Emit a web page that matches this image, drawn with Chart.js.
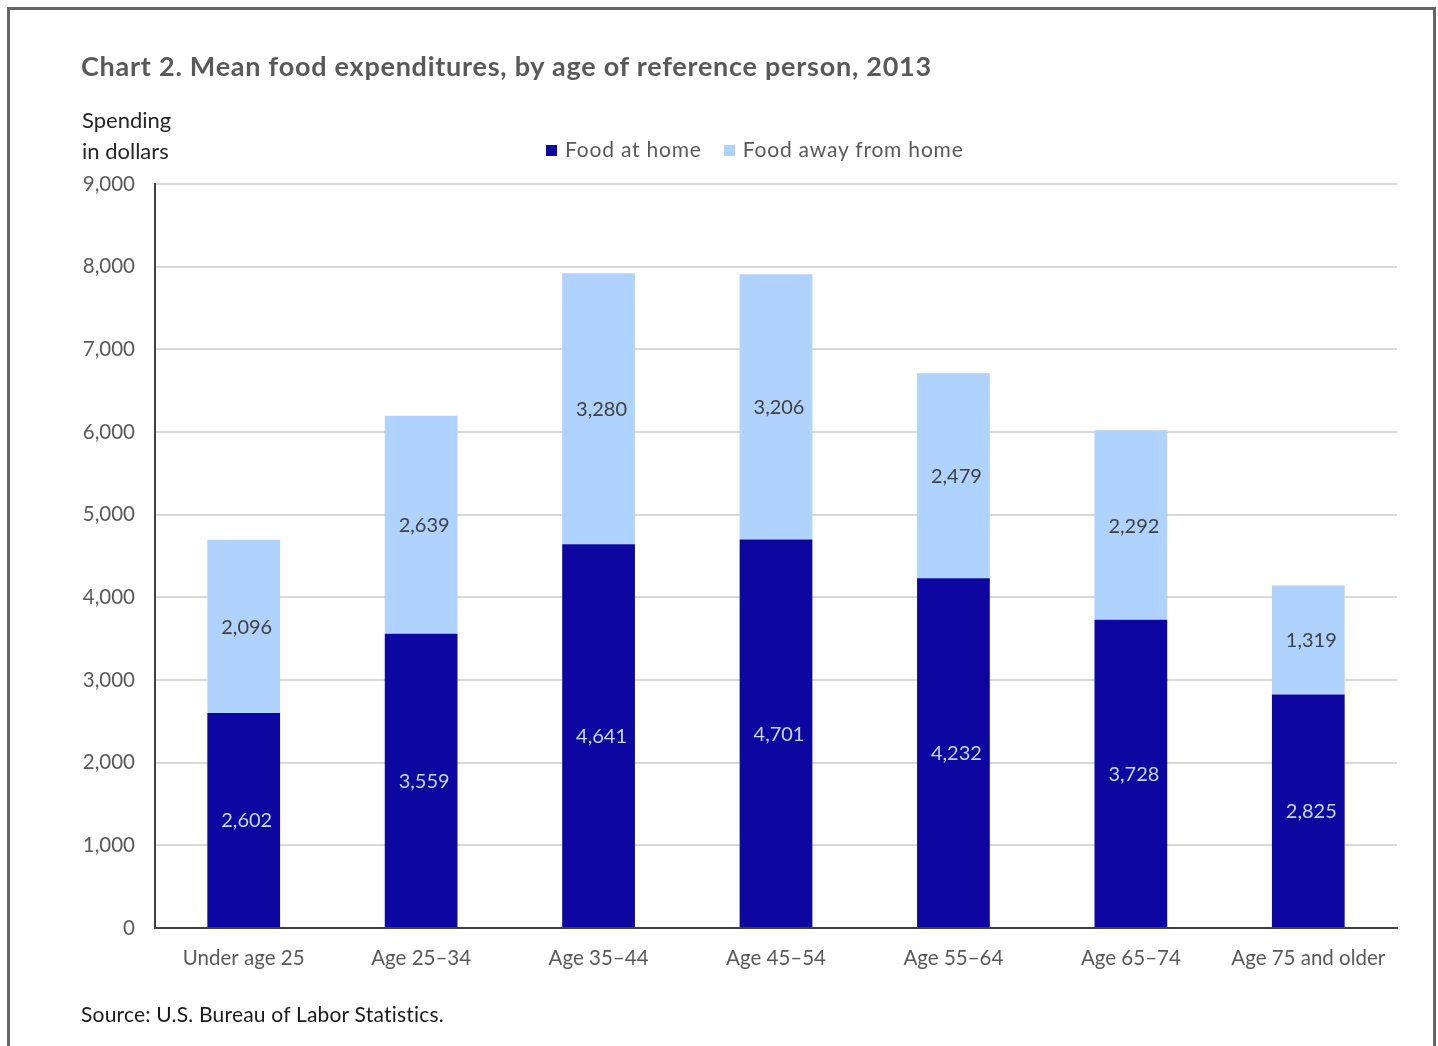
<!DOCTYPE html>
<html>
<head>
<meta charset="utf-8">
<script src="https://cdn.jsdelivr.net/npm/chart.js@4.4.0/dist/chart.umd.min.js"></script>
<style>
  body { margin: 0; background: #fff; font-family: Lato, sans-serif; }
  #frame { position: absolute; left: 7px; top: 7px; width: 1429px; height: 1100px;
           border: 3px solid #646464; border-bottom: none; box-sizing: border-box; }
  #wrap { position: absolute; left: 0; top: 0; width: 1438px; height: 1046px; }
  .txt { position: absolute; white-space: nowrap; }
  #title { left: 81px; top: 49px; font-size: 27px; letter-spacing: 0.75px; font-weight: bold; color: #595959; }
  #ytitle { left: 82px; top: 104px; font-size: 22px; line-height: 31px; color: #262626; }
  #source { left: 81px; top: 1001px; font-size: 21px; letter-spacing: 0.2px; color: #1a1a1a; }
  #legend { left: 546px; top: 136px; font-size: 21px; letter-spacing: 0.8px; color: #595959; }
  #legend span.box { display: inline-block; width: 11px; height: 11px; margin-right: 8px; vertical-align: 1px; }
  #legend span.item { margin-right: 22px; }
</style>
</head>
<body>
<div id="frame"></div>
<div id="wrap"><canvas id="chart" width="1438" height="1046"></canvas></div>
<div class="txt" id="title">Chart 2. Mean food expenditures, by age of reference person, 2013</div>
<div class="txt" id="ytitle">Spending<br>in dollars</div>
<div class="txt" id="legend"></div>
<div class="txt" id="source">Source: U.S. Bureau of Labor Statistics.</div>
<script>
const categories = ['Under age 25', 'Age 25\u201334', 'Age 35\u201344', 'Age 45\u201354', 'Age 55\u201364', 'Age 65\u201374', 'Age 75 and older'];
const foodAtHome = [2602, 3559, 4641, 4701, 4232, 3728, 2825];
const foodAway = [2096, 2639, 3280, 3206, 2479, 2292, 1319];
const yTicks = [0, 1000, 2000, 3000, 4000, 5000, 6000, 7000, 8000, 9000];

const darkBlue = '#0e06a0';
const lightBlue = '#b0d2ff';

const seriesInfo = [
  { label: 'Food at home', color: darkBlue, textColor: '#c6d8ff' },
  { label: 'Food away from home', color: lightBlue, textColor: '#404040' }
];

// html legend
document.getElementById('legend').innerHTML = seriesInfo.map(s =>
  `<span class="item"><span class="box" style="background:${s.color}"></span>${s.label}</span>`).join('');

const fmt = v => v.toLocaleString('en-US');

// values in the middle of each segment
const segmentLabels = {
  id: 'segmentLabels',
  afterDatasetsDraw(chart) {
    const c = chart.ctx;
    c.save();
    c.font = '20px Lato, sans-serif';
    c.textAlign = 'center';
    c.textBaseline = 'middle';
    chart.data.datasets.forEach((ds, i) => {
      chart.getDatasetMeta(i).data.forEach((bar, j) => {
        const p = bar.getProps(['x', 'y', 'base'], true);
        c.fillStyle = seriesInfo[i].textColor;
        c.fillText(fmt(ds.data[j]), p.x + 3, (p.y + p.base) / 2 + 1);
      });
    });
    c.restore();
  }
};

new Chart(document.getElementById('chart'), {
  type: 'bar',
  data: {
    labels: categories,
    datasets: [
      { label: seriesInfo[0].label, data: foodAtHome, backgroundColor: darkBlue },
      { label: seriesInfo[1].label, data: foodAway, backgroundColor: lightBlue }
    ]
  },
  options: {
    responsive: false,
    animation: false,
    layout: { padding: { left: 75, right: 41, top: 184, bottom: 76 } },
    datasets: { bar: { barPercentage: 0.41, categoryPercentage: 1 } },
    plugins: { legend: { display: false }, tooltip: { enabled: false } },
    scales: {
      x: {
        stacked: true,
        grid: { display: false, drawTicks: false },
        border: { color: '#404040', width: 2 },
        ticks: { color: '#595959', font: { family: 'Lato', size: 20.5 }, padding: 18, maxRotation: 0 },
        afterFit: s => { s.height = 42; }
      },
      y: {
        stacked: true,
        min: 0,
        max: 9000,
        grid: { color: '#d9d9d9', lineWidth: 2, drawTicks: false },
        border: { color: '#404040', width: 2 },
        afterBuildTicks: s => { s.ticks = yTicks.map(v => ({ value: v })); },
        ticks: { color: '#595959', font: { family: 'Lato', size: 20.5 }, padding: 20, callback: v => fmt(v) },
        afterFit: s => { s.width = 80; }
      }
    }
  },
  plugins: [segmentLabels]
});
</script>
</body>
</html>
